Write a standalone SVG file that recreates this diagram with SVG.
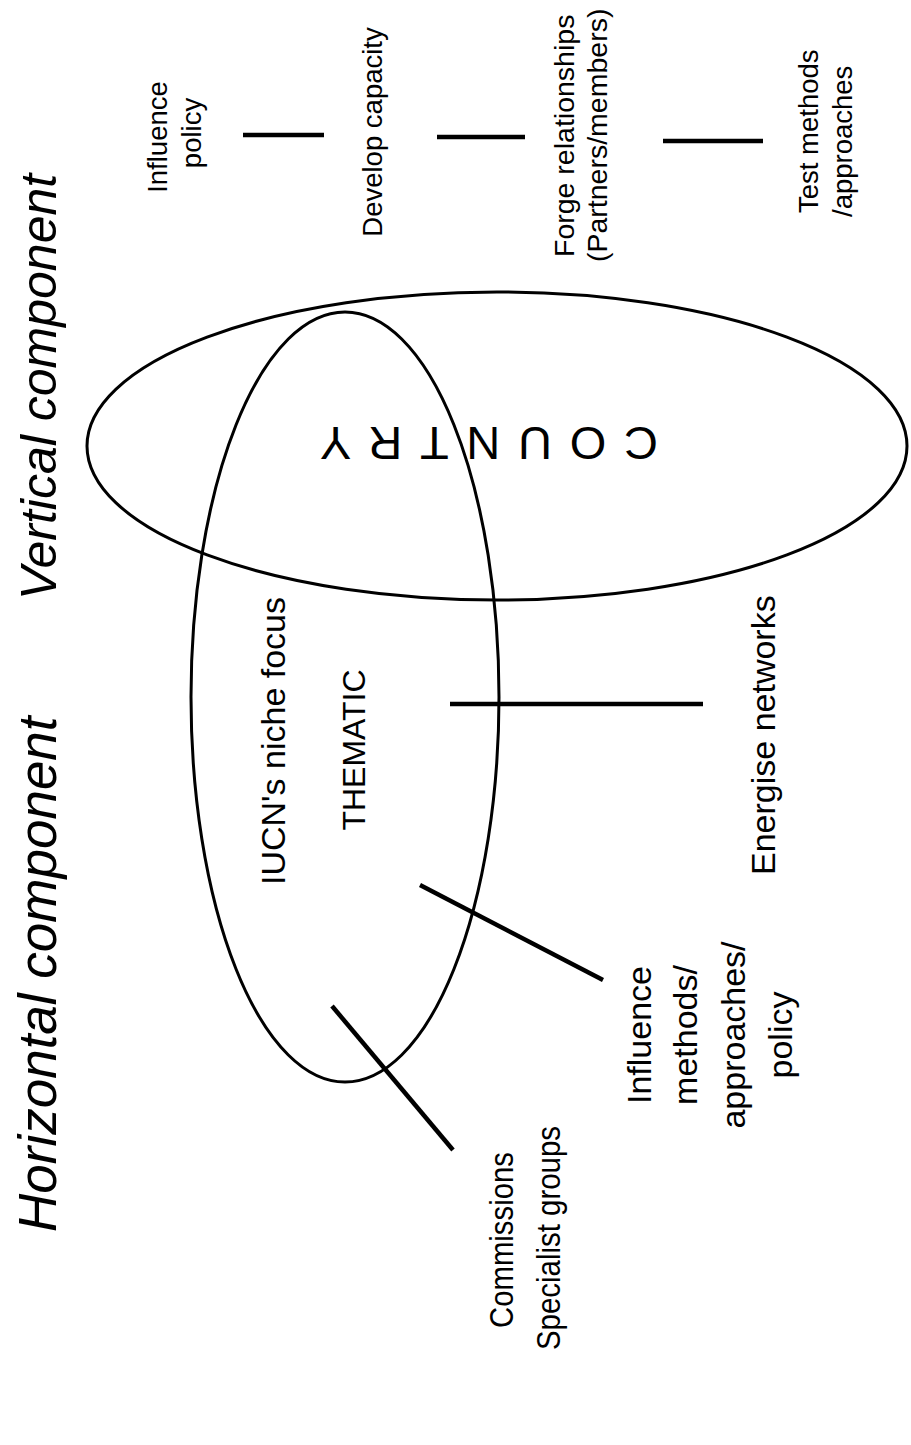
<svg xmlns="http://www.w3.org/2000/svg" width="911" height="1445" viewBox="0 0 911 1445">
<style>
.t{font-family:"Liberation Sans",Arial,sans-serif;fill:#000}
.s{font-size:27.5px}
.m{font-size:34px}
.ti{font-style:italic}
.e{fill:none;stroke:#000;stroke-width:3}
.c{stroke:#000;stroke-width:4.5;stroke-linecap:butt}
</style>
<rect width="911" height="1445" fill="#fff"/>
<g id="title-vertical"><text class="t ti" font-size="50" transform="translate(56,600) rotate(-90)">Vertical component</text></g>
<g id="title-horizontal"><text class="t ti" font-size="53" transform="translate(56,1232) rotate(-90)">Horizontal component</text></g>
<g id="country">
<ellipse class="e" cx="497" cy="446" rx="410" ry="154"/>
<text class="t" font-size="47" transform="translate(658,427) rotate(180)" textLength="338" lengthAdjust="spacing">COUNTRY</text>
</g>
<g id="thematic">
<ellipse class="e" cx="345" cy="697" rx="154" ry="385"/>
<text class="t m" text-anchor="middle" transform="translate(285,741) rotate(-90)">IUCN's niche focus</text>
<text class="t" font-size="32" text-anchor="middle" transform="translate(365,750) rotate(-90)">THEMATIC</text>
</g>
<g id="influence-policy"><text class="t s" text-anchor="middle" transform="translate(167,137) rotate(-90)">Influence</text><text class="t s" text-anchor="middle" transform="translate(201,133) rotate(-90)">policy</text></g>
<g id="develop-capacity"><text class="t s" text-anchor="middle" transform="translate(382,132) rotate(-90)">Develop capacity</text></g>
<g id="forge-relationships"><text class="t" font-size="28.5" transform="translate(574,257) rotate(-90)">Forge relationships</text><text class="t" font-size="28.5" transform="translate(607,262) rotate(-90)">(Partners/members)</text></g>
<g id="test-methods"><text class="t s" transform="translate(818,213) rotate(-90)">Test methods</text><text class="t s" transform="translate(852,217) rotate(-90)">/approaches</text></g>
<g id="energise-networks"><text class="t m" transform="translate(775,875) rotate(-90)">Energise networks</text></g>
<g id="influence-methods">
<text class="t m" text-anchor="middle" transform="translate(651,1035) rotate(-90)">Influence</text>
<text class="t m" text-anchor="middle" transform="translate(697,1035) rotate(-90)">methods/</text>
<text class="t m" text-anchor="middle" transform="translate(745,1035) rotate(-90)">approaches/</text>
<text class="t m" text-anchor="middle" transform="translate(792,1035) rotate(-90)">policy</text>
</g>
<g id="commissions">
<text class="t m" text-anchor="middle" textLength="176" lengthAdjust="spacingAndGlyphs" transform="translate(513,1240) rotate(-90)">Commissions</text>
<text class="t m" text-anchor="middle" textLength="224" lengthAdjust="spacingAndGlyphs" transform="translate(560,1238) rotate(-90)">Specialist groups</text>
</g>
<g id="connectors">
<line class="c" x1="243" y1="135" x2="324" y2="135"/>
<line class="c" x1="437" y1="137" x2="525" y2="137"/>
<line class="c" x1="663" y1="141" x2="763" y2="141"/>
<line class="c" x1="450" y1="704" x2="703" y2="704"/>
<line class="c" x1="420" y1="885" x2="603" y2="980"/>
<line class="c" x1="332" y1="1006" x2="453" y2="1150"/>
</g>
</svg>
